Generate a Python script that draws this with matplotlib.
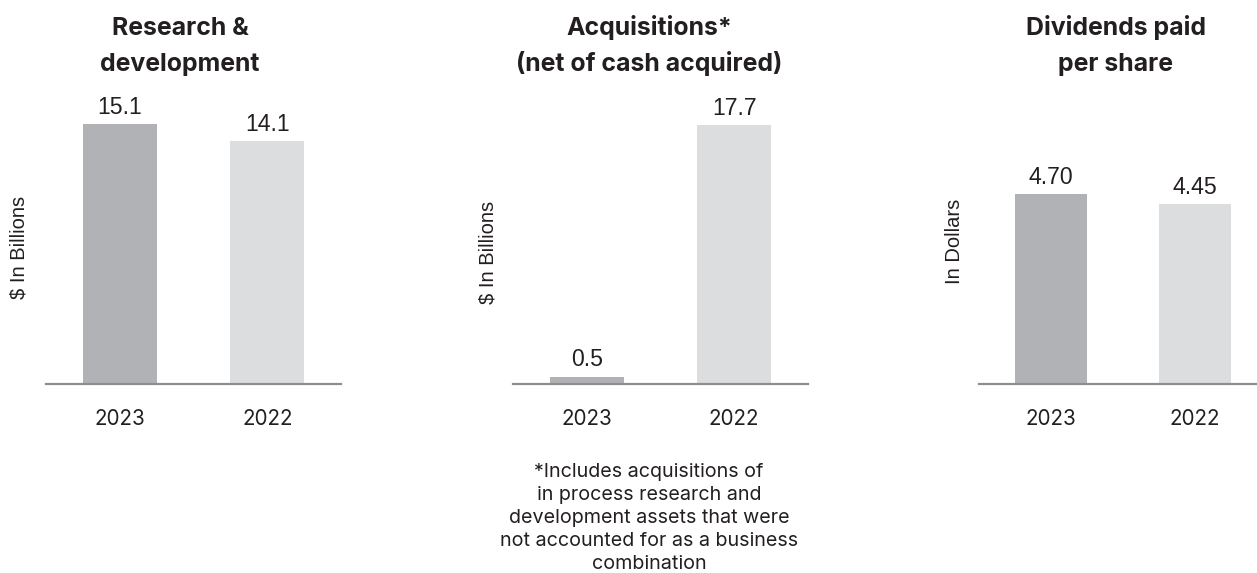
import matplotlib
matplotlib.use("Agg")
import matplotlib.pyplot as plt

W, H = 1257, 573
DPI = 100

years = ["2023", "2022"]
titles = [["Research &", "development"],
          ["Acquisitions*", "(net of cash acquired)"],
          ["Dividends paid", "per share"]]
ylabels = ["$ In Billions", "$ In Billions", "In Dollars"]
values = [[15.1, 14.1], [0.5, 17.7], [4.70, 4.45]]
value_labels = [["15.1", "14.1"], ["0.5", "17.7"], ["4.70", "4.45"]]
footnote_lines = ["*Includes acquisitions of",
                  "in process research and",
                  "development assets that were",
                  "not accounted for as a business",
                  "combination"]

colors = ["#b1b2b5", "#dcdddf"]
text_color = "#231f20"
axis_color = "#8e8e8e"

ax_bottom_px, ax_top_px = 384, 100
panels = [
    dict(left=46, right=341, xlim=(-0.5, 1.5), ytop=284 / 17.2, title_x=180, ylab=(19, 247)),
    dict(left=513, right=808, xlim=(-0.5, 1.5), ytop=284 / 14.63, title_x=649, ylab=(488, 252)),
    dict(left=979, right=1257, xlim=(-0.5, 1.43), ytop=284 / 40.4, title_x=1116, ylab=(955, 241)),
]

fig = plt.figure(figsize=(W / DPI, H / DPI), dpi=DPI)
renderer = fig.canvas.get_renderer()


def fx(x):
    return x / W


def fy(y):
    return 1 - y / H


def fit_size(text_obj, target_px):
    bb = text_obj.get_window_extent(renderer)
    return text_obj.get_fontsize() * target_px / bb.width


val_font = "Liberation Sans"
tick_font = "Inter"
title_font = "Inter"

probe = fig.text(0, 0, "(net of cash acquired)", fontsize=16, fontweight="bold", fontfamily=title_font)
title_size = fit_size(probe, 267)
probe.remove()
probe = fig.text(0, 0, "2023", fontsize=15, fontfamily=tick_font)
tick_size = fit_size(probe, 51)
probe.remove()
probe = fig.text(0, 0, "$ In Billions", fontsize=12, fontfamily=val_font)
ylab_size = fit_size(probe, 103)
probe.remove()
probe = fig.text(0, 0, "not accounted for as a business", fontsize=12, fontfamily=tick_font)
foot_size = fit_size(probe, 298)
probe.remove()
probe = fig.text(0, 0, "4.70", fontsize=15, fontfamily=val_font)
val_size = fit_size(probe, 45)
probe.remove()

for i, p in enumerate(panels):
    ax = fig.add_axes([fx(p["left"]), fy(ax_bottom_px),
                       (p["right"] - p["left"]) / W, (ax_bottom_px - ax_top_px) / H])
    xs = list(range(len(years)))
    ax.bar(xs, values[i], width=0.505, color=colors, zorder=2)
    ax.set_xlim(*p["xlim"])
    ax.set_ylim(0, p["ytop"])
    for s in ["top", "right", "left"]:
        ax.spines[s].set_visible(False)
    ax.spines["bottom"].set_color(axis_color)
    ax.spines["bottom"].set_linewidth(1.6)
    ax.spines["bottom"].set_zorder(3)
    ax.set_yticks([])
    ax.set_xticks(xs)
    ax.set_xticklabels(years, fontsize=tick_size, fontfamily=tick_font, color=text_color)
    ax.tick_params(axis="x", length=0, pad=18)
    for x, v, lab in zip(xs, values[i], value_labels[i]):
        ax.annotate(lab, (x, v), xytext=(0, 7.5), textcoords="offset points",
                    ha="center", va="baseline", fontsize=val_size, fontfamily=val_font,
                    color=text_color)
    fig.text(fx(p["title_x"]), fy(35), titles[i][0], ha="center", va="baseline",
             fontsize=title_size, fontweight="bold", fontfamily=title_font, color=text_color)
    fig.text(fx(p["title_x"]), fy(71), titles[i][1], ha="center", va="baseline",
             fontsize=title_size, fontweight="bold", fontfamily=title_font, color=text_color)
    fig.text(fx(p["ylab"][0]), fy(p["ylab"][1]), ylabels[i], rotation=90,
             ha="center", va="center", fontsize=ylab_size, fontfamily=val_font, color=text_color)

for k, line in enumerate(footnote_lines):
    fig.text(fx(649), fy(477 + k * 23.0), line, ha="center", va="baseline",
             fontsize=foot_size, fontfamily=tick_font, color=text_color)

fig.savefig("out.png", dpi=DPI)
